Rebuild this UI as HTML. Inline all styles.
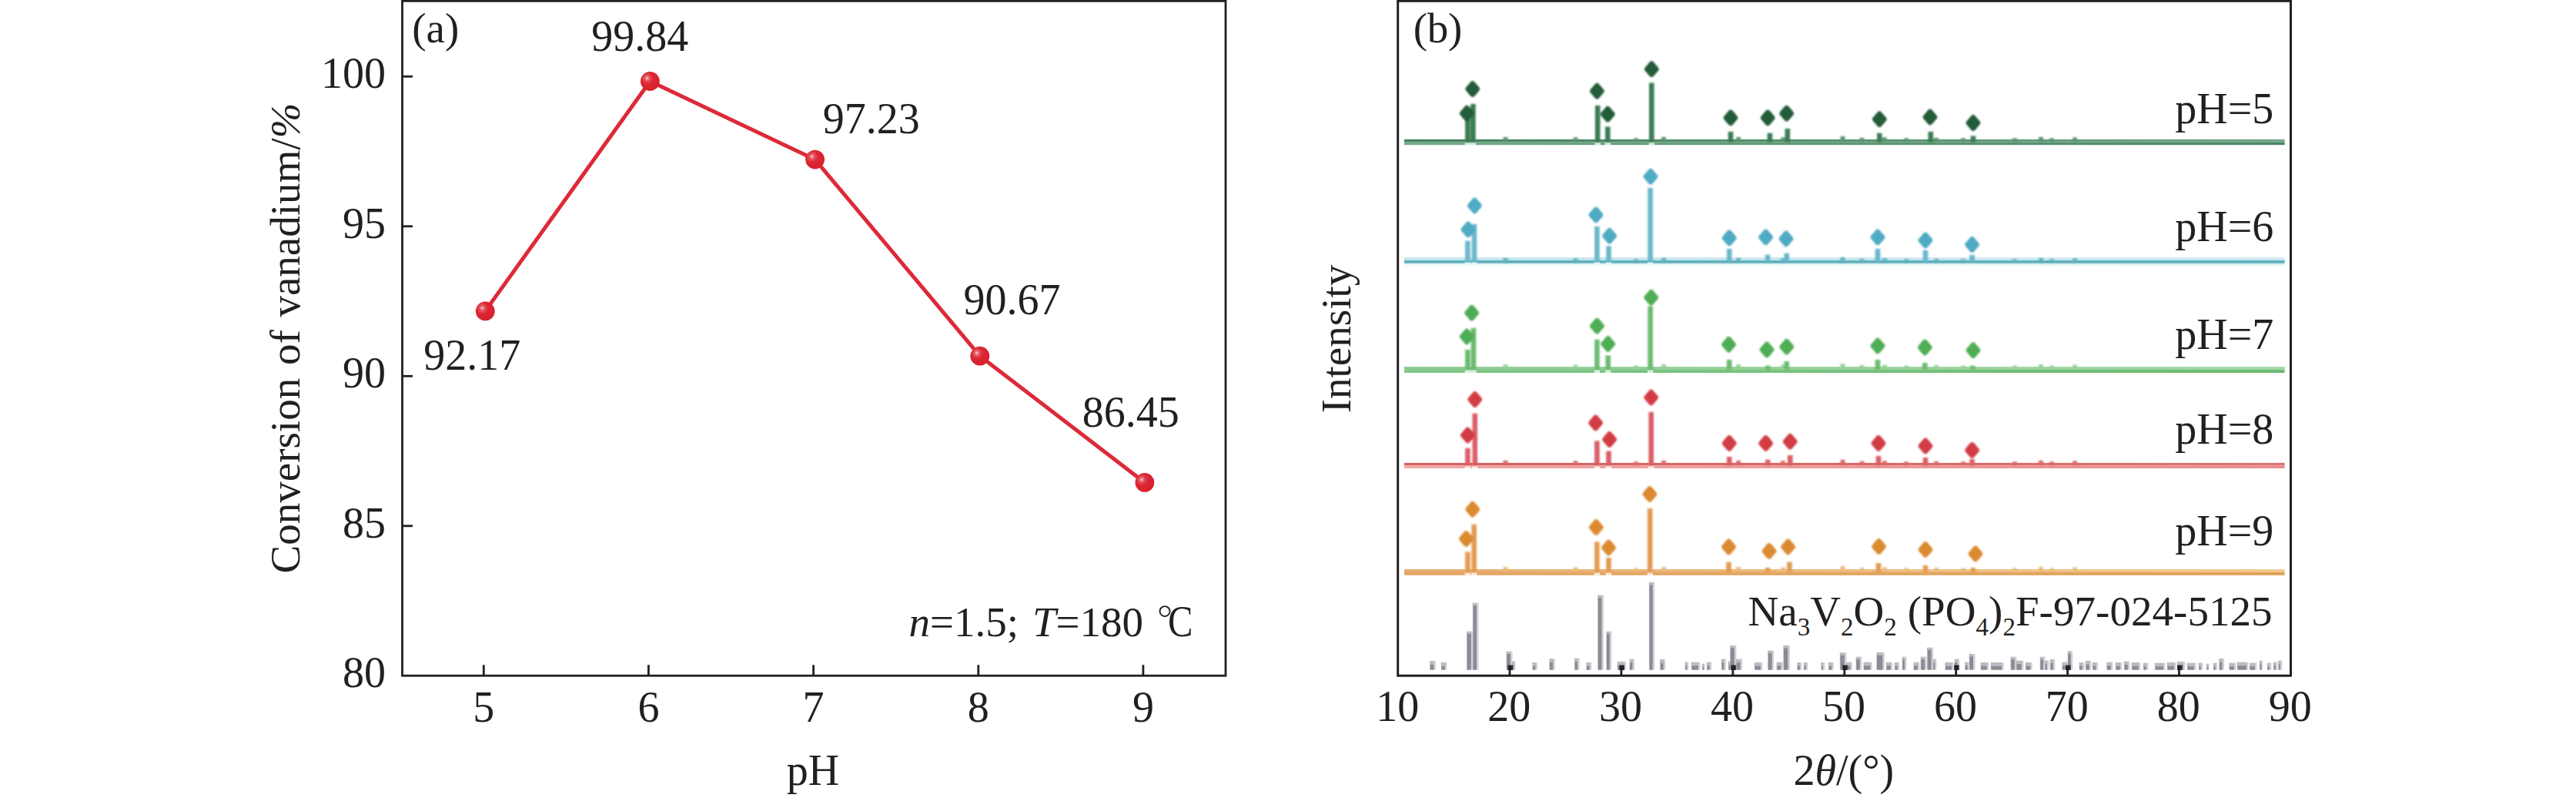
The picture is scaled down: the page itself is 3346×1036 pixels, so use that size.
<!DOCTYPE html>
<html><head><meta charset="utf-8"><title>Figure</title>
<style>
html,body{margin:0;padding:0;background:#fff;}
body{width:3346px;height:1036px;overflow:hidden;}
svg{display:block;}
text{font-family:"Liberation Serif",serif;font-size:56px;fill:#231f20;}
.i{font-style:italic;}
.sub{font-size:33px;}
.f55{font-size:55px;}
</style></head><body>
<svg width="3346" height="1036" viewBox="0 0 3346 1036">
<defs>
<filter id="soft" x="-5%" y="-5%" width="110%" height="110%"><feGaussianBlur stdDeviation="1.1"/></filter>
<filter id="soft2" x="-5%" y="-5%" width="110%" height="110%"><feGaussianBlur stdDeviation="0.7"/></filter>
<radialGradient id="ball" cx="0.36" cy="0.36" r="0.62" fx="0.34" fy="0.34">
<stop offset="0" stop-color="#f7c6cb"/><stop offset="0.22" stop-color="#e5525e"/><stop offset="0.5" stop-color="#dc2733"/><stop offset="1" stop-color="#d8202d"/>
</radialGradient>
</defs>
<rect x="0" y="0" width="3346" height="1036" fill="#ffffff"/>
<g id="panel-a">
<rect x="522.5" y="1.3" width="1069.5" height="875.9" fill="none" stroke="#231f20" stroke-width="2.8"/>
<text x="501" y="892.4" text-anchor="end">80</text>
<line x1="522.5" y1="682.8" x2="536.0" y2="682.8" stroke="#231f20" stroke-width="2.8"/>
<text x="501" y="697.9" text-anchor="end">85</text>
<line x1="522.5" y1="488.3" x2="536.0" y2="488.3" stroke="#231f20" stroke-width="2.8"/>
<text x="501" y="503.4" text-anchor="end">90</text>
<line x1="522.5" y1="293.8" x2="536.0" y2="293.8" stroke="#231f20" stroke-width="2.8"/>
<text x="501" y="308.9" text-anchor="end">95</text>
<line x1="522.5" y1="99.3" x2="536.0" y2="99.3" stroke="#231f20" stroke-width="2.8"/>
<text x="501" y="114.4" text-anchor="end">100</text>
<line x1="628.3" y1="877.2" x2="628.3" y2="863.2" stroke="#231f20" stroke-width="2.8"/>
<text x="628.3" y="937.1" text-anchor="middle">5</text>
<line x1="842.4" y1="877.2" x2="842.4" y2="863.2" stroke="#231f20" stroke-width="2.8"/>
<text x="842.4" y="937.1" text-anchor="middle">6</text>
<line x1="1056.6" y1="877.2" x2="1056.6" y2="863.2" stroke="#231f20" stroke-width="2.8"/>
<text x="1056.6" y="937.1" text-anchor="middle">7</text>
<line x1="1270.8" y1="877.2" x2="1270.8" y2="863.2" stroke="#231f20" stroke-width="2.8"/>
<text x="1270.8" y="937.1" text-anchor="middle">8</text>
<line x1="1484.9" y1="877.2" x2="1484.9" y2="863.2" stroke="#231f20" stroke-width="2.8"/>
<text x="1484.9" y="937.1" text-anchor="middle">9</text>
<text x="1056" y="1018.8" text-anchor="middle">pH</text>
<text transform="translate(389,439) rotate(-90)" text-anchor="middle" word-spacing="3" class="f55">Conversion of vanadium/<tspan class="i">%</tspan></text>
<text x="535.3" y="55" class="f55">(a)</text>
<g filter="url(#soft2)">
<polyline points="630.3,403.9 844.4,105.5 1058.6,207.1 1272.8,462.2 1486.9,626.4" fill="none" stroke="#dd2a38" stroke-width="5.0" stroke-linejoin="round" stroke-linecap="round"/>
<circle cx="630.3" cy="403.9" r="12.4" fill="url(#ball)"/>
<circle cx="844.4" cy="105.5" r="12.4" fill="url(#ball)"/>
<circle cx="1058.6" cy="207.1" r="12.4" fill="url(#ball)"/>
<circle cx="1272.8" cy="462.2" r="12.4" fill="url(#ball)"/>
<circle cx="1486.9" cy="626.4" r="12.4" fill="url(#ball)"/>
</g>
<text x="550.3" y="479.8">92.17</text>
<text x="768.3" y="65.9">99.84</text>
<text x="1068.8" y="172.7">97.23</text>
<text x="1251.5" y="407.9">90.67</text>
<text x="1405.8" y="553.6">86.45</text>
<text x="1180.5" y="826" class="f55"><tspan class="i">n</tspan>=1.5;</text>
<text x="1485" y="826" text-anchor="end" class="f55"><tspan class="i">T</tspan>=180</text>
<circle cx="1513" cy="793.6" r="6.5" fill="none" stroke="#231f20" stroke-width="1.9"/>
<text transform="translate(1517.0,826.3) scale(0.885,1.035)" class="f55">C</text>
</g>
<g id="panel-b">
<g>
<linearGradient id="g1" gradientUnits="userSpaceOnUse" x1="1824" y1="0" x2="2968" y2="0"><stop offset="0" stop-color="#43825d"/><stop offset="1" stop-color="#72a686"/></linearGradient>
<rect x="1824" y="180.9" width="1143.6" height="3.7" fill="url(#g1)"/>
<linearGradient id="g2" gradientUnits="userSpaceOnUse" x1="1824" y1="0" x2="2968" y2="0"><stop offset="0" stop-color="#73aa87"/><stop offset="1" stop-color="#4b8764"/></linearGradient>
<rect x="1824" y="184.6" width="1143.6" height="3.6" fill="url(#g2)"/>
<rect x="1902.7" y="184.9" width="7.4" height="3.8" fill="#ffffff" fill-opacity="0.75"/>
<rect x="1909.7" y="184.9" width="7.4" height="3.8" fill="#ffffff" fill-opacity="0.75"/>
<rect x="2071.5" y="184.9" width="7.4" height="3.8" fill="#ffffff" fill-opacity="0.75"/>
<rect x="2084.6" y="184.9" width="7.4" height="3.8" fill="#ffffff" fill-opacity="0.75"/>
<rect x="2141.6" y="184.9" width="7.4" height="3.8" fill="#ffffff" fill-opacity="0.75"/>
</g>
<g filter="url(#soft)">
<g fill="#5a9471">
<rect x="1952.5" y="177.9" width="6.0" height="6.0"/>
<rect x="2043.5" y="178.4" width="6.0" height="5.5"/>
<rect x="2122.0" y="179.4" width="6.0" height="4.5"/>
<rect x="2158.0" y="177.9" width="6.0" height="6.0"/>
<rect x="2255.0" y="177.9" width="6.0" height="6.0"/>
<rect x="2313.0" y="178.4" width="6.0" height="5.5"/>
<rect x="2390.5" y="176.9" width="6.0" height="7.0"/>
<rect x="2415.5" y="178.9" width="6.0" height="5.0"/>
<rect x="2445.0" y="178.4" width="6.0" height="5.5"/>
<rect x="2473.0" y="179.4" width="6.0" height="4.5"/>
<rect x="2512.0" y="178.9" width="6.0" height="5.0"/>
<rect x="2547.0" y="179.4" width="6.0" height="4.5"/>
<rect x="2614.0" y="179.4" width="6.0" height="4.5"/>
<rect x="2648.0" y="177.9" width="6.0" height="6.0"/>
<rect x="2662.0" y="179.4" width="6.0" height="4.5"/>
<rect x="2692.0" y="178.4" width="6.0" height="5.5"/>
</g>
<g fill="#3a7c53">
<rect x="1903.1" y="150.0" width="6.6" height="34.6"/>
<rect x="1910.1" y="135.0" width="6.6" height="49.6"/>
<rect x="2071.9" y="137.0" width="6.6" height="47.6"/>
<rect x="2085.0" y="164.5" width="6.6" height="20.1"/>
<rect x="2142.0" y="107.5" width="6.6" height="77.1"/>
<rect x="2244.7" y="171.0" width="6.6" height="13.6"/>
<rect x="2295.6" y="172.8" width="6.6" height="11.8"/>
<rect x="2318.5" y="167.0" width="6.6" height="17.6"/>
<rect x="2438.0" y="172.8" width="6.6" height="11.8"/>
<rect x="2504.5" y="171.0" width="6.6" height="13.6"/>
<rect x="2559.7" y="176.5" width="6.6" height="8.1"/>
</g>
<g fill="#245c38" stroke="#245c38" stroke-width="7" stroke-linejoin="round">
<path d="M1905.3 140.4L1911.1 147.2L1905.3 154.0L1899.5 147.2Z"/>
<path d="M1912.8 108.8L1918.6 115.6L1912.8 122.4L1907.0 115.6Z"/>
<path d="M2074.4 111.5L2080.2 118.3L2074.4 125.1L2068.6 118.3Z"/>
<path d="M2088.3 141.5L2094.1 148.3L2088.3 155.1L2082.5 148.3Z"/>
<path d="M2145.3 83.0L2151.1 89.8L2145.3 96.6L2139.5 89.8Z"/>
<path d="M2248.0 146.1L2253.8 152.9L2248.0 159.7L2242.2 152.9Z"/>
<path d="M2296.2 146.1L2302.0 152.9L2296.2 159.7L2290.4 152.9Z"/>
<path d="M2320.7 140.4L2326.5 147.2L2320.7 154.0L2314.9 147.2Z"/>
<path d="M2441.3 147.9L2447.1 154.7L2441.3 161.5L2435.5 154.7Z"/>
<path d="M2507.0 145.2L2512.8 152.0L2507.0 158.8L2501.2 152.0Z"/>
<path d="M2563.0 152.8L2568.8 159.6L2563.0 166.4L2557.2 159.6Z"/>
</g>
</g>
<g>
<linearGradient id="g3" gradientUnits="userSpaceOnUse" x1="1824" y1="0" x2="2968" y2="0"><stop offset="0" stop-color="#c3e6eb"/><stop offset="1" stop-color="#cdebee"/></linearGradient>
<rect x="1824" y="334.2" width="1143.6" height="3.8" fill="url(#g3)"/>
<linearGradient id="g4" gradientUnits="userSpaceOnUse" x1="1824" y1="0" x2="2968" y2="0"><stop offset="0" stop-color="#ecf7f8"/><stop offset="1" stop-color="#e1f2f3"/></linearGradient>
<rect x="1824" y="341.9" width="1143.6" height="3.1" fill="url(#g4)"/>
<linearGradient id="g5" gradientUnits="userSpaceOnUse" x1="1824" y1="0" x2="2968" y2="0"><stop offset="0" stop-color="#64b2c1"/><stop offset="1" stop-color="#64b2c1"/></linearGradient>
<rect x="1824" y="338.0" width="1143.6" height="2.0" fill="url(#g5)"/>
<linearGradient id="g6" gradientUnits="userSpaceOnUse" x1="1824" y1="0" x2="2968" y2="0"><stop offset="0" stop-color="#64b2c1"/><stop offset="1" stop-color="#64b2c1"/></linearGradient>
<rect x="1824" y="340.0" width="1143.6" height="1.9" fill="url(#g6)"/>
<rect x="1902.7" y="340.3" width="7.4" height="2.1" fill="#ffffff" fill-opacity="0.75"/>
<rect x="1911.3" y="340.3" width="7.4" height="2.1" fill="#ffffff" fill-opacity="0.75"/>
<rect x="2070.7" y="340.3" width="7.4" height="2.1" fill="#ffffff" fill-opacity="0.75"/>
<rect x="2085.8" y="340.3" width="7.4" height="2.1" fill="#ffffff" fill-opacity="0.75"/>
<rect x="2139.9" y="340.3" width="7.4" height="2.1" fill="#ffffff" fill-opacity="0.75"/>
</g>
<g filter="url(#soft)">
<g fill="#64b2c1">
<rect x="1952.5" y="335.0" width="6.0" height="6.0"/>
<rect x="2043.5" y="335.5" width="6.0" height="5.5"/>
<rect x="2122.0" y="336.5" width="6.0" height="4.5"/>
<rect x="2158.0" y="335.0" width="6.0" height="6.0"/>
<rect x="2255.0" y="335.0" width="6.0" height="6.0"/>
<rect x="2313.0" y="335.5" width="6.0" height="5.5"/>
<rect x="2390.5" y="334.0" width="6.0" height="7.0"/>
<rect x="2415.5" y="336.0" width="6.0" height="5.0"/>
<rect x="2445.0" y="335.5" width="6.0" height="5.5"/>
<rect x="2473.0" y="336.5" width="6.0" height="4.5"/>
<rect x="2512.0" y="336.0" width="6.0" height="5.0"/>
<rect x="2547.0" y="336.5" width="6.0" height="4.5"/>
<rect x="2614.0" y="336.5" width="6.0" height="4.5"/>
<rect x="2648.0" y="335.0" width="6.0" height="6.0"/>
<rect x="2662.0" y="336.5" width="6.0" height="4.5"/>
<rect x="2692.0" y="335.5" width="6.0" height="5.5"/>
</g>
<g fill="#6ab7cd">
<rect x="1903.1" y="312.6" width="6.6" height="27.4"/>
<rect x="1911.7" y="291.0" width="6.6" height="49.0"/>
<rect x="2071.1" y="294.0" width="6.6" height="46.0"/>
<rect x="2086.2" y="319.4" width="6.6" height="20.6"/>
<rect x="2140.3" y="244.0" width="6.6" height="96.0"/>
<rect x="2242.9" y="323.0" width="6.6" height="17.0"/>
<rect x="2292.7" y="330.7" width="6.6" height="9.3"/>
<rect x="2317.4" y="328.8" width="6.6" height="11.2"/>
<rect x="2435.7" y="323.0" width="6.6" height="17.0"/>
<rect x="2497.7" y="325.0" width="6.6" height="15.0"/>
<rect x="2558.3" y="331.0" width="6.6" height="9.0"/>
</g>
<g fill="#4faac3" stroke="#4faac3" stroke-width="7" stroke-linejoin="round">
<path d="M1907.0 291.2L1912.8 298.0L1907.0 304.8L1901.2 298.0Z"/>
<path d="M1915.4 260.2L1921.2 267.0L1915.4 273.8L1909.6 267.0Z"/>
<path d="M2073.0 272.2L2078.8 279.0L2073.0 285.8L2067.2 279.0Z"/>
<path d="M2090.6 299.4L2096.4 306.2L2090.6 313.0L2084.8 306.2Z"/>
<path d="M2144.0 222.4L2149.8 229.2L2144.0 236.0L2138.2 229.2Z"/>
<path d="M2246.2 302.1L2252.0 308.9L2246.2 315.7L2240.4 308.9Z"/>
<path d="M2293.6 301.2L2299.4 308.0L2293.6 314.8L2287.8 308.0Z"/>
<path d="M2320.0 303.2L2325.8 310.0L2320.0 316.8L2314.2 310.0Z"/>
<path d="M2439.0 301.2L2444.8 308.0L2439.0 314.8L2433.2 308.0Z"/>
<path d="M2501.0 305.2L2506.8 312.0L2501.0 318.8L2495.2 312.0Z"/>
<path d="M2561.6 310.7L2567.4 317.5L2561.6 324.3L2555.8 317.5Z"/>
</g>
</g>
<g>
<linearGradient id="g7" gradientUnits="userSpaceOnUse" x1="1824" y1="0" x2="2968" y2="0"><stop offset="0" stop-color="#8aca8e"/><stop offset="1" stop-color="#a0d7a5"/></linearGradient>
<rect x="1824" y="476.2" width="1143.6" height="3.9" fill="url(#g7)"/>
<linearGradient id="g8" gradientUnits="userSpaceOnUse" x1="1824" y1="0" x2="2968" y2="0"><stop offset="0" stop-color="#7dc684"/><stop offset="1" stop-color="#69b96e"/></linearGradient>
<rect x="1824" y="480.1" width="1143.6" height="3.9" fill="url(#g8)"/>
<rect x="1902.7" y="480.4" width="7.4" height="4.1" fill="#ffffff" fill-opacity="0.75"/>
<rect x="1910.3" y="480.4" width="7.4" height="4.1" fill="#ffffff" fill-opacity="0.75"/>
<rect x="2070.7" y="480.4" width="7.4" height="4.1" fill="#ffffff" fill-opacity="0.75"/>
<rect x="2085.0" y="480.4" width="7.4" height="4.1" fill="#ffffff" fill-opacity="0.75"/>
<rect x="2139.9" y="480.4" width="7.4" height="4.1" fill="#ffffff" fill-opacity="0.75"/>
</g>
<g filter="url(#soft)">
<g fill="#95d099">
<rect x="1952.5" y="473.2" width="6.0" height="6.0"/>
<rect x="2043.5" y="473.7" width="6.0" height="5.5"/>
<rect x="2122.0" y="474.7" width="6.0" height="4.5"/>
<rect x="2158.0" y="473.2" width="6.0" height="6.0"/>
<rect x="2255.0" y="473.2" width="6.0" height="6.0"/>
<rect x="2313.0" y="473.7" width="6.0" height="5.5"/>
<rect x="2390.5" y="472.2" width="6.0" height="7.0"/>
<rect x="2415.5" y="474.2" width="6.0" height="5.0"/>
<rect x="2445.0" y="473.7" width="6.0" height="5.5"/>
<rect x="2473.0" y="474.7" width="6.0" height="4.5"/>
<rect x="2512.0" y="474.2" width="6.0" height="5.0"/>
<rect x="2547.0" y="474.7" width="6.0" height="4.5"/>
<rect x="2614.0" y="474.7" width="6.0" height="4.5"/>
<rect x="2648.0" y="473.2" width="6.0" height="6.0"/>
<rect x="2662.0" y="474.7" width="6.0" height="4.5"/>
<rect x="2692.0" y="473.7" width="6.0" height="5.5"/>
</g>
<g fill="#6cbb6f">
<rect x="1903.1" y="454.0" width="6.6" height="26.1"/>
<rect x="1910.7" y="425.8" width="6.6" height="54.3"/>
<rect x="2071.1" y="440.8" width="6.6" height="39.3"/>
<rect x="2085.4" y="461.5" width="6.6" height="18.6"/>
<rect x="2140.3" y="397.6" width="6.6" height="82.5"/>
<rect x="2242.9" y="467.0" width="6.6" height="13.1"/>
<rect x="2292.9" y="474.7" width="6.6" height="5.4"/>
<rect x="2317.4" y="469.0" width="6.6" height="11.1"/>
<rect x="2435.7" y="467.0" width="6.6" height="13.1"/>
<rect x="2497.0" y="471.0" width="6.6" height="9.1"/>
<rect x="2559.0" y="474.7" width="6.6" height="5.4"/>
</g>
<g fill="#4fae54" stroke="#4fae54" stroke-width="7" stroke-linejoin="round">
<path d="M1905.3 430.2L1911.1 437.0L1905.3 443.8L1899.5 437.0Z"/>
<path d="M1911.7 399.4L1917.5 406.2L1911.7 413.0L1905.9 406.2Z"/>
<path d="M2074.4 416.4L2080.2 423.2L2074.4 430.0L2068.6 423.2Z"/>
<path d="M2088.7 439.7L2094.5 446.5L2088.7 453.3L2082.9 446.5Z"/>
<path d="M2144.7 379.5L2150.5 386.3L2144.7 393.1L2138.9 386.3Z"/>
<path d="M2245.5 440.4L2251.3 447.2L2245.5 454.0L2239.7 447.2Z"/>
<path d="M2295.0 447.2L2300.8 454.0L2295.0 460.8L2289.2 454.0Z"/>
<path d="M2320.7 443.4L2326.5 450.2L2320.7 457.0L2314.9 450.2Z"/>
<path d="M2439.0 442.2L2444.8 449.0L2439.0 455.8L2433.2 449.0Z"/>
<path d="M2500.3 444.2L2506.1 451.0L2500.3 457.8L2494.5 451.0Z"/>
<path d="M2563.0 447.9L2568.8 454.7L2563.0 461.5L2557.2 454.7Z"/>
</g>
</g>
<g>
<linearGradient id="g9" gradientUnits="userSpaceOnUse" x1="1824" y1="0" x2="2968" y2="0"><stop offset="0" stop-color="#d75f5f"/><stop offset="1" stop-color="#dc7373"/></linearGradient>
<rect x="1824" y="600.9" width="1143.6" height="3.5" fill="url(#g9)"/>
<linearGradient id="g10" gradientUnits="userSpaceOnUse" x1="1824" y1="0" x2="2968" y2="0"><stop offset="0" stop-color="#f0a5a5"/><stop offset="1" stop-color="#e68c8c"/></linearGradient>
<rect x="1824" y="604.4" width="1143.6" height="3.6" fill="url(#g10)"/>
<rect x="1902.7" y="604.7" width="7.4" height="3.8" fill="#ffffff" fill-opacity="0.75"/>
<rect x="1912.1" y="604.7" width="7.4" height="3.8" fill="#ffffff" fill-opacity="0.75"/>
<rect x="2070.7" y="604.7" width="7.4" height="3.8" fill="#ffffff" fill-opacity="0.75"/>
<rect x="2085.8" y="604.7" width="7.4" height="3.8" fill="#ffffff" fill-opacity="0.75"/>
<rect x="2141.0" y="604.7" width="7.4" height="3.8" fill="#ffffff" fill-opacity="0.75"/>
</g>
<g filter="url(#soft)">
<g fill="#d96969">
<rect x="1952.5" y="597.9" width="6.0" height="6.0"/>
<rect x="2043.5" y="598.4" width="6.0" height="5.5"/>
<rect x="2122.0" y="599.4" width="6.0" height="4.5"/>
<rect x="2158.0" y="597.9" width="6.0" height="6.0"/>
<rect x="2255.0" y="597.9" width="6.0" height="6.0"/>
<rect x="2313.0" y="598.4" width="6.0" height="5.5"/>
<rect x="2390.5" y="596.9" width="6.0" height="7.0"/>
<rect x="2415.5" y="598.9" width="6.0" height="5.0"/>
<rect x="2445.0" y="598.4" width="6.0" height="5.5"/>
<rect x="2473.0" y="599.4" width="6.0" height="4.5"/>
<rect x="2512.0" y="598.9" width="6.0" height="5.0"/>
<rect x="2547.0" y="599.4" width="6.0" height="4.5"/>
<rect x="2614.0" y="599.4" width="6.0" height="4.5"/>
<rect x="2648.0" y="597.9" width="6.0" height="6.0"/>
<rect x="2662.0" y="599.4" width="6.0" height="4.5"/>
<rect x="2692.0" y="598.4" width="6.0" height="5.5"/>
</g>
<g fill="#da5f66">
<rect x="1903.1" y="581.8" width="6.6" height="22.6"/>
<rect x="1912.5" y="536.7" width="6.6" height="67.7"/>
<rect x="2071.1" y="572.4" width="6.6" height="32.0"/>
<rect x="2086.2" y="585.6" width="6.6" height="18.8"/>
<rect x="2141.4" y="534.8" width="6.6" height="69.6"/>
<rect x="2242.9" y="593.0" width="6.6" height="11.4"/>
<rect x="2292.9" y="596.8" width="6.6" height="7.6"/>
<rect x="2321.9" y="591.0" width="6.6" height="13.4"/>
<rect x="2436.7" y="592.0" width="6.6" height="12.4"/>
<rect x="2497.7" y="594.0" width="6.6" height="10.4"/>
<rect x="2558.3" y="596.0" width="6.6" height="8.4"/>
</g>
<g fill="#d23c44" stroke="#d23c44" stroke-width="7" stroke-linejoin="round">
<path d="M1906.4 558.2L1912.2 565.0L1906.4 571.8L1900.6 565.0Z"/>
<path d="M1915.8 511.8L1921.6 518.6L1915.8 525.4L1910.0 518.6Z"/>
<path d="M2072.6 542.2L2078.4 549.0L2072.6 555.8L2066.8 549.0Z"/>
<path d="M2090.6 563.7L2096.4 570.5L2090.6 577.3L2084.8 570.5Z"/>
<path d="M2144.7 509.2L2150.5 516.0L2144.7 522.8L2138.9 516.0Z"/>
<path d="M2246.2 568.6L2252.0 575.4L2246.2 582.2L2240.4 575.4Z"/>
<path d="M2293.6 568.6L2299.4 575.4L2293.6 582.2L2287.8 575.4Z"/>
<path d="M2325.2 566.4L2331.0 573.2L2325.2 580.0L2319.4 573.2Z"/>
<path d="M2440.0 568.6L2445.8 575.4L2440.0 582.2L2434.2 575.4Z"/>
<path d="M2501.0 572.2L2506.8 579.0L2501.0 585.8L2495.2 579.0Z"/>
<path d="M2561.6 577.6L2567.4 584.4L2561.6 591.2L2555.8 584.4Z"/>
</g>
</g>
<g>
<linearGradient id="g11" gradientUnits="userSpaceOnUse" x1="1824" y1="0" x2="2968" y2="0"><stop offset="0" stop-color="#e5ac6c"/><stop offset="1" stop-color="#f0c891"/></linearGradient>
<rect x="1824" y="739.1" width="1143.6" height="3.9" fill="url(#g11)"/>
<linearGradient id="g12" gradientUnits="userSpaceOnUse" x1="1824" y1="0" x2="2968" y2="0"><stop offset="0" stop-color="#e4a864"/><stop offset="1" stop-color="#e1a055"/></linearGradient>
<rect x="1824" y="743.0" width="1143.6" height="3.8" fill="url(#g12)"/>
<rect x="1902.7" y="743.3" width="7.4" height="4.0" fill="#ffffff" fill-opacity="0.75"/>
<rect x="1911.0" y="743.3" width="7.4" height="4.0" fill="#ffffff" fill-opacity="0.75"/>
<rect x="2070.7" y="743.3" width="7.4" height="4.0" fill="#ffffff" fill-opacity="0.75"/>
<rect x="2085.8" y="743.3" width="7.4" height="4.0" fill="#ffffff" fill-opacity="0.75"/>
<rect x="2139.5" y="743.3" width="7.4" height="4.0" fill="#ffffff" fill-opacity="0.75"/>
</g>
<g filter="url(#soft)">
<g fill="#eaba7e">
<rect x="1952.5" y="736.1" width="6.0" height="6.0"/>
<rect x="2043.5" y="736.6" width="6.0" height="5.5"/>
<rect x="2122.0" y="737.6" width="6.0" height="4.5"/>
<rect x="2158.0" y="736.1" width="6.0" height="6.0"/>
<rect x="2255.0" y="736.1" width="6.0" height="6.0"/>
<rect x="2313.0" y="736.6" width="6.0" height="5.5"/>
<rect x="2390.5" y="735.1" width="6.0" height="7.0"/>
<rect x="2415.5" y="737.1" width="6.0" height="5.0"/>
<rect x="2445.0" y="736.6" width="6.0" height="5.5"/>
<rect x="2473.0" y="737.6" width="6.0" height="4.5"/>
<rect x="2512.0" y="737.1" width="6.0" height="5.0"/>
<rect x="2547.0" y="737.6" width="6.0" height="4.5"/>
<rect x="2614.0" y="737.6" width="6.0" height="4.5"/>
<rect x="2648.0" y="736.1" width="6.0" height="6.0"/>
<rect x="2662.0" y="737.6" width="6.0" height="4.5"/>
<rect x="2692.0" y="736.6" width="6.0" height="5.5"/>
</g>
<g fill="#e39b52">
<rect x="1903.1" y="716.5" width="6.6" height="26.5"/>
<rect x="1911.4" y="680.8" width="6.6" height="62.2"/>
<rect x="2071.1" y="703.4" width="6.6" height="39.6"/>
<rect x="2086.2" y="724.0" width="6.6" height="19.0"/>
<rect x="2139.9" y="660.0" width="6.6" height="83.0"/>
<rect x="2242.2" y="729.7" width="6.6" height="13.3"/>
<rect x="2292.7" y="737.0" width="6.6" height="6.0"/>
<rect x="2321.1" y="729.7" width="6.6" height="13.3"/>
<rect x="2436.7" y="731.0" width="6.6" height="12.0"/>
<rect x="2497.7" y="734.0" width="6.6" height="9.0"/>
<rect x="2559.7" y="737.0" width="6.6" height="6.0"/>
</g>
<g fill="#dc8a30" stroke="#dc8a30" stroke-width="7" stroke-linejoin="round">
<path d="M1904.5 692.8L1910.3 699.6L1904.5 706.4L1898.7 699.6Z"/>
<path d="M1912.8 654.5L1918.6 661.3L1912.8 668.1L1907.0 661.3Z"/>
<path d="M2073.3 677.8L2079.1 684.6L2073.3 691.4L2067.5 684.6Z"/>
<path d="M2089.5 704.2L2095.3 711.0L2089.5 717.8L2083.7 711.0Z"/>
<path d="M2142.9 634.6L2148.7 641.4L2142.9 648.2L2137.1 641.4Z"/>
<path d="M2245.5 703.2L2251.3 710.0L2245.5 716.8L2239.7 710.0Z"/>
<path d="M2298.0 708.6L2303.8 715.4L2298.0 722.2L2292.2 715.4Z"/>
<path d="M2322.6 703.2L2328.4 710.0L2322.6 716.8L2316.8 710.0Z"/>
<path d="M2440.5 702.7L2446.3 709.5L2440.5 716.3L2434.7 709.5Z"/>
<path d="M2501.0 706.7L2506.8 713.5L2501.0 720.3L2495.2 713.5Z"/>
<path d="M2566.0 712.2L2571.8 719.0L2566.0 725.8L2560.2 719.0Z"/>
</g>
</g>
<g filter="url(#soft2)">
<g fill="#cfd0d5">
<rect x="1857.0" y="858.1" width="7.8" height="11.5"/>
<rect x="1871.7" y="860.0" width="7.6" height="9.6"/>
<rect x="1904.9" y="819.5" width="8.4" height="50.1"/>
<rect x="1912.7" y="782.5" width="7.8" height="87.1"/>
<rect x="1956.4" y="845.5" width="8.1" height="24.1"/>
<rect x="1963.9" y="858.5" width="4.4" height="11.1"/>
<rect x="1990.2" y="860.0" width="6.7" height="9.6"/>
<rect x="2012.2" y="855.1" width="7.5" height="14.5"/>
<rect x="2044.9" y="854.5" width="6.7" height="15.1"/>
<rect x="2060.2" y="860.0" width="7.1" height="9.6"/>
<rect x="2075.1" y="772.5" width="7.8" height="97.1"/>
<rect x="2086.2" y="819.5" width="7.1" height="50.1"/>
<rect x="2100.6" y="859.0" width="11.5" height="10.6"/>
<rect x="2116.3" y="855.5" width="6.7" height="14.1"/>
<rect x="2141.8" y="755.9" width="7.3" height="113.7"/>
<rect x="2156.0" y="856.0" width="7.1" height="13.6"/>
<rect x="2188.5" y="859.5" width="4.8" height="10.1"/>
<rect x="2196.7" y="859.5" width="11.6" height="10.1"/>
<rect x="2210.7" y="861.5" width="3.6" height="8.1"/>
<rect x="2216.7" y="859.5" width="6.4" height="10.1"/>
<rect x="2235.7" y="855.5" width="6.1" height="14.1"/>
<rect x="2247.0" y="838.0" width="8.3" height="31.6"/>
<rect x="2254.7" y="855.5" width="8.4" height="14.1"/>
<rect x="2244.7" y="858.5" width="2.9" height="11.1"/>
<rect x="2278.7" y="860.0" width="10.6" height="9.6"/>
<rect x="2296.0" y="844.5" width="8.1" height="25.1"/>
<rect x="2307.5" y="859.5" width="8.3" height="10.1"/>
<rect x="2316.2" y="838.0" width="8.6" height="31.6"/>
<rect x="2334.1" y="860.0" width="6.2" height="9.6"/>
<rect x="2342.7" y="860.0" width="5.6" height="9.6"/>
<rect x="2365.2" y="860.0" width="5.1" height="9.6"/>
<rect x="2374.7" y="860.0" width="7.1" height="9.6"/>
<rect x="2389.7" y="847.3" width="8.6" height="22.3"/>
<rect x="2397.7" y="859.5" width="8.1" height="10.1"/>
<rect x="2410.5" y="852.5" width="7.8" height="17.1"/>
<rect x="2420.3" y="859.5" width="11.5" height="10.1"/>
<rect x="2437.2" y="847.1" width="10.6" height="22.5"/>
<rect x="2449.7" y="859.5" width="8.6" height="10.1"/>
<rect x="2460.7" y="860.0" width="6.6" height="9.6"/>
<rect x="2470.5" y="852.5" width="6.0" height="17.1"/>
<rect x="2485.3" y="859.5" width="8.0" height="10.1"/>
<rect x="2494.5" y="852.5" width="8.0" height="17.1"/>
<rect x="2503.0" y="840.5" width="8.1" height="29.1"/>
<rect x="2510.5" y="855.5" width="4.8" height="14.1"/>
<rect x="2526.2" y="860.0" width="11.4" height="9.6"/>
<rect x="2538.3" y="855.5" width="6.8" height="14.1"/>
<rect x="2552.1" y="859.5" width="6.1" height="10.1"/>
<rect x="2557.6" y="848.9" width="7.9" height="20.7"/>
<rect x="2572.5" y="860.0" width="10.8" height="9.6"/>
<rect x="2585.7" y="860.0" width="16.9" height="9.6"/>
<rect x="2611.4" y="852.5" width="7.9" height="17.1"/>
<rect x="2618.7" y="857.5" width="9.6" height="12.1"/>
<rect x="2630.7" y="860.0" width="9.0" height="9.6"/>
<rect x="2649.6" y="852.5" width="6.9" height="17.1"/>
<rect x="2655.9" y="857.5" width="5.4" height="12.1"/>
<rect x="2662.7" y="856.0" width="6.6" height="13.6"/>
<rect x="2678.2" y="859.5" width="7.9" height="10.1"/>
<rect x="2685.5" y="845.3" width="6.8" height="24.3"/>
<rect x="2700.5" y="860.0" width="6.8" height="9.6"/>
<rect x="2708.7" y="858.0" width="7.6" height="11.6"/>
<rect x="2717.7" y="860.0" width="7.3" height="9.6"/>
<rect x="2736.2" y="859.5" width="8.1" height="10.1"/>
<rect x="2747.7" y="860.0" width="8.6" height="9.6"/>
<rect x="2758.7" y="858.5" width="7.6" height="11.1"/>
<rect x="2768.7" y="860.0" width="11.6" height="9.6"/>
<rect x="2783.7" y="860.5" width="6.6" height="9.1"/>
<rect x="2798.7" y="860.5" width="13.6" height="9.1"/>
<rect x="2814.7" y="860.0" width="11.6" height="9.6"/>
<rect x="2827.7" y="859.0" width="10.6" height="10.6"/>
<rect x="2840.7" y="860.5" width="11.6" height="9.1"/>
<rect x="2855.7" y="860.5" width="5.6" height="9.1"/>
<rect x="2865.7" y="861.5" width="3.6" height="8.1"/>
<rect x="2874.7" y="860.5" width="5.6" height="9.1"/>
<rect x="2882.2" y="855.0" width="6.7" height="14.6"/>
<rect x="2895.2" y="860.5" width="9.1" height="9.1"/>
<rect x="2905.7" y="859.5" width="14.6" height="10.1"/>
<rect x="2921.7" y="860.5" width="9.6" height="9.1"/>
<rect x="2934.7" y="857.5" width="4.1" height="12.1"/>
<rect x="2944.7" y="860.5" width="5.6" height="9.1"/>
<rect x="2952.7" y="859.5" width="5.6" height="10.1"/>
<rect x="2959.2" y="857.5" width="5.1" height="12.1"/>
</g>
<g fill="#8a8c95">
<rect x="1857.7" y="858.6" width="4.6" height="11.0"/>
<rect x="1872.4" y="860.5" width="4.4" height="9.1"/>
<rect x="1905.6" y="820.0" width="5.2" height="49.6"/>
<rect x="1913.4" y="783.0" width="4.6" height="86.6"/>
<rect x="1957.1" y="846.0" width="4.9" height="23.6"/>
<rect x="1964.6" y="859.0" width="2.0" height="10.6"/>
<rect x="1990.9" y="860.5" width="3.5" height="9.1"/>
<rect x="2012.9" y="855.6" width="4.3" height="14.0"/>
<rect x="2045.6" y="855.0" width="3.5" height="14.6"/>
<rect x="2060.9" y="860.5" width="3.9" height="9.1"/>
<rect x="2075.8" y="773.0" width="4.6" height="96.6"/>
<rect x="2086.9" y="820.0" width="3.9" height="49.6"/>
<rect x="2101.3" y="859.5" width="8.3" height="10.1"/>
<rect x="2117.0" y="856.0" width="3.5" height="13.6"/>
<rect x="2142.5" y="756.4" width="4.1" height="113.2"/>
<rect x="2156.7" y="856.5" width="3.9" height="13.1"/>
<rect x="2189.2" y="860.0" width="2.0" height="9.6"/>
<rect x="2197.4" y="860.0" width="8.4" height="9.6"/>
<rect x="2211.4" y="862.0" width="2.0" height="7.6"/>
<rect x="2217.4" y="860.0" width="3.2" height="9.6"/>
<rect x="2236.4" y="856.0" width="2.9" height="13.6"/>
<rect x="2247.7" y="838.5" width="5.1" height="31.1"/>
<rect x="2255.4" y="856.0" width="5.2" height="13.6"/>
<rect x="2245.4" y="859.0" width="2.0" height="10.6"/>
<rect x="2279.4" y="860.5" width="7.4" height="9.1"/>
<rect x="2296.7" y="845.0" width="4.9" height="24.6"/>
<rect x="2308.2" y="860.0" width="5.1" height="9.6"/>
<rect x="2316.9" y="838.5" width="5.4" height="31.1"/>
<rect x="2334.8" y="860.5" width="3.0" height="9.1"/>
<rect x="2343.4" y="860.5" width="2.4" height="9.1"/>
<rect x="2365.9" y="860.5" width="2.0" height="9.1"/>
<rect x="2375.4" y="860.5" width="3.9" height="9.1"/>
<rect x="2390.4" y="847.8" width="5.4" height="21.8"/>
<rect x="2398.4" y="860.0" width="4.9" height="9.6"/>
<rect x="2411.2" y="853.0" width="4.6" height="16.6"/>
<rect x="2421.0" y="860.0" width="8.3" height="9.6"/>
<rect x="2437.9" y="847.6" width="7.4" height="22.0"/>
<rect x="2450.4" y="860.0" width="5.4" height="9.6"/>
<rect x="2461.4" y="860.5" width="3.4" height="9.1"/>
<rect x="2471.2" y="853.0" width="2.8" height="16.6"/>
<rect x="2486.0" y="860.0" width="4.8" height="9.6"/>
<rect x="2495.2" y="853.0" width="4.8" height="16.6"/>
<rect x="2503.7" y="841.0" width="4.9" height="28.6"/>
<rect x="2511.2" y="856.0" width="2.0" height="13.6"/>
<rect x="2526.9" y="860.5" width="8.2" height="9.1"/>
<rect x="2539.0" y="856.0" width="3.6" height="13.6"/>
<rect x="2552.8" y="860.0" width="2.9" height="9.6"/>
<rect x="2558.3" y="849.4" width="4.7" height="20.2"/>
<rect x="2573.2" y="860.5" width="7.6" height="9.1"/>
<rect x="2586.4" y="860.5" width="13.7" height="9.1"/>
<rect x="2612.1" y="853.0" width="4.7" height="16.6"/>
<rect x="2619.4" y="858.0" width="6.4" height="11.6"/>
<rect x="2631.4" y="860.5" width="5.8" height="9.1"/>
<rect x="2650.3" y="853.0" width="3.7" height="16.6"/>
<rect x="2656.6" y="858.0" width="2.2" height="11.6"/>
<rect x="2663.4" y="856.5" width="3.4" height="13.1"/>
<rect x="2678.9" y="860.0" width="4.7" height="9.6"/>
<rect x="2686.2" y="845.8" width="3.6" height="23.8"/>
<rect x="2701.2" y="860.5" width="3.6" height="9.1"/>
<rect x="2709.4" y="858.5" width="4.4" height="11.1"/>
<rect x="2718.4" y="860.5" width="4.1" height="9.1"/>
<rect x="2736.9" y="860.0" width="4.9" height="9.6"/>
<rect x="2748.4" y="860.5" width="5.4" height="9.1"/>
<rect x="2759.4" y="859.0" width="4.4" height="10.6"/>
<rect x="2769.4" y="860.5" width="8.4" height="9.1"/>
<rect x="2784.4" y="861.0" width="3.4" height="8.6"/>
<rect x="2799.4" y="861.0" width="10.4" height="8.6"/>
<rect x="2815.4" y="860.5" width="8.4" height="9.1"/>
<rect x="2828.4" y="859.5" width="7.4" height="10.1"/>
<rect x="2841.4" y="861.0" width="8.4" height="8.6"/>
<rect x="2856.4" y="861.0" width="2.4" height="8.6"/>
<rect x="2866.4" y="862.0" width="2.0" height="7.6"/>
<rect x="2875.4" y="861.0" width="2.4" height="8.6"/>
<rect x="2882.9" y="855.5" width="3.5" height="14.1"/>
<rect x="2895.9" y="861.0" width="5.9" height="8.6"/>
<rect x="2906.4" y="860.0" width="11.4" height="9.6"/>
<rect x="2922.4" y="861.0" width="6.4" height="8.6"/>
<rect x="2935.4" y="858.0" width="2.0" height="11.6"/>
<rect x="2945.4" y="861.0" width="2.4" height="8.6"/>
<rect x="2953.4" y="860.0" width="2.4" height="9.6"/>
<rect x="2959.9" y="858.0" width="2.0" height="11.6"/>
</g>
<g fill="#bcbdc4">
<rect x="1857.7" y="858.6" width="4.6" height="4.2"/>
<rect x="1872.4" y="860.5" width="4.4" height="4.2"/>
<rect x="1905.6" y="820.0" width="5.2" height="3.0"/>
<rect x="1913.4" y="783.0" width="4.6" height="3.0"/>
<rect x="1957.1" y="846.0" width="4.9" height="3.0"/>
<rect x="1964.6" y="859.0" width="2.0" height="4.2"/>
<rect x="1990.9" y="860.5" width="3.5" height="4.2"/>
<rect x="2012.9" y="855.6" width="4.3" height="4.2"/>
<rect x="2045.6" y="855.0" width="3.5" height="4.2"/>
<rect x="2060.9" y="860.5" width="3.9" height="4.2"/>
<rect x="2075.8" y="773.0" width="4.6" height="3.0"/>
<rect x="2086.9" y="820.0" width="3.9" height="3.0"/>
<rect x="2101.3" y="859.5" width="8.3" height="4.2"/>
<rect x="2117.0" y="856.0" width="3.5" height="4.2"/>
<rect x="2142.5" y="756.4" width="4.1" height="3.0"/>
<rect x="2156.7" y="856.5" width="3.9" height="4.2"/>
<rect x="2189.2" y="860.0" width="2.0" height="4.2"/>
<rect x="2197.4" y="860.0" width="8.4" height="4.2"/>
<rect x="2211.4" y="862.0" width="2.0" height="4.2"/>
<rect x="2217.4" y="860.0" width="3.2" height="4.2"/>
<rect x="2236.4" y="856.0" width="2.9" height="4.2"/>
<rect x="2247.7" y="838.5" width="5.1" height="3.0"/>
<rect x="2255.4" y="856.0" width="5.2" height="4.2"/>
<rect x="2245.4" y="859.0" width="2.0" height="4.2"/>
<rect x="2279.4" y="860.5" width="7.4" height="4.2"/>
<rect x="2296.7" y="845.0" width="4.9" height="3.0"/>
<rect x="2308.2" y="860.0" width="5.1" height="4.2"/>
<rect x="2316.9" y="838.5" width="5.4" height="3.0"/>
<rect x="2334.8" y="860.5" width="3.0" height="4.2"/>
<rect x="2343.4" y="860.5" width="2.4" height="4.2"/>
<rect x="2365.9" y="860.5" width="2.0" height="4.2"/>
<rect x="2375.4" y="860.5" width="3.9" height="4.2"/>
<rect x="2390.4" y="847.8" width="5.4" height="3.0"/>
<rect x="2398.4" y="860.0" width="4.9" height="4.2"/>
<rect x="2411.2" y="853.0" width="4.6" height="3.0"/>
<rect x="2421.0" y="860.0" width="8.3" height="4.2"/>
<rect x="2437.9" y="847.6" width="7.4" height="3.0"/>
<rect x="2450.4" y="860.0" width="5.4" height="4.2"/>
<rect x="2461.4" y="860.5" width="3.4" height="4.2"/>
<rect x="2471.2" y="853.0" width="2.8" height="3.0"/>
<rect x="2486.0" y="860.0" width="4.8" height="4.2"/>
<rect x="2495.2" y="853.0" width="4.8" height="3.0"/>
<rect x="2503.7" y="841.0" width="4.9" height="3.0"/>
<rect x="2511.2" y="856.0" width="2.0" height="4.2"/>
<rect x="2526.9" y="860.5" width="8.2" height="4.2"/>
<rect x="2539.0" y="856.0" width="3.6" height="4.2"/>
<rect x="2552.8" y="860.0" width="2.9" height="4.2"/>
<rect x="2558.3" y="849.4" width="4.7" height="3.0"/>
<rect x="2573.2" y="860.5" width="7.6" height="4.2"/>
<rect x="2586.4" y="860.5" width="13.7" height="4.2"/>
<rect x="2612.1" y="853.0" width="4.7" height="3.0"/>
<rect x="2619.4" y="858.0" width="6.4" height="4.2"/>
<rect x="2631.4" y="860.5" width="5.8" height="4.2"/>
<rect x="2650.3" y="853.0" width="3.7" height="3.0"/>
<rect x="2656.6" y="858.0" width="2.2" height="4.2"/>
<rect x="2663.4" y="856.5" width="3.4" height="4.2"/>
<rect x="2678.9" y="860.0" width="4.7" height="4.2"/>
<rect x="2686.2" y="845.8" width="3.6" height="3.0"/>
<rect x="2701.2" y="860.5" width="3.6" height="4.2"/>
<rect x="2709.4" y="858.5" width="4.4" height="4.2"/>
<rect x="2718.4" y="860.5" width="4.1" height="4.2"/>
<rect x="2736.9" y="860.0" width="4.9" height="4.2"/>
<rect x="2748.4" y="860.5" width="5.4" height="4.2"/>
<rect x="2759.4" y="859.0" width="4.4" height="4.2"/>
<rect x="2769.4" y="860.5" width="8.4" height="4.2"/>
<rect x="2784.4" y="861.0" width="3.4" height="4.2"/>
<rect x="2799.4" y="861.0" width="10.4" height="4.2"/>
<rect x="2815.4" y="860.5" width="8.4" height="4.2"/>
<rect x="2828.4" y="859.5" width="7.4" height="4.2"/>
<rect x="2841.4" y="861.0" width="8.4" height="4.2"/>
<rect x="2856.4" y="861.0" width="2.4" height="4.2"/>
<rect x="2866.4" y="862.0" width="2.0" height="4.2"/>
<rect x="2875.4" y="861.0" width="2.4" height="4.2"/>
<rect x="2882.9" y="855.5" width="3.5" height="4.2"/>
<rect x="2895.9" y="861.0" width="5.9" height="4.2"/>
<rect x="2906.4" y="860.0" width="11.4" height="4.2"/>
<rect x="2922.4" y="861.0" width="6.4" height="4.2"/>
<rect x="2935.4" y="858.0" width="2.0" height="4.2"/>
<rect x="2945.4" y="861.0" width="2.4" height="4.2"/>
<rect x="2953.4" y="860.0" width="2.4" height="4.2"/>
<rect x="2959.9" y="858.0" width="2.0" height="4.2"/>
</g>
</g>
<rect x="1958.5" y="863.5" width="6.5" height="6.5" fill="#2b2a30"/>
<rect x="2103.4" y="863.5" width="6.5" height="6.5" fill="#2b2a30"/>
<rect x="2248.4" y="863.5" width="6.5" height="6.5" fill="#2b2a30"/>
<rect x="2393.3" y="863.5" width="6.5" height="6.5" fill="#2b2a30"/>
<rect x="2538.2" y="863.5" width="6.5" height="6.5" fill="#2b2a30"/>
<rect x="2683.1" y="863.5" width="6.5" height="6.5" fill="#2b2a30"/>
<rect x="2828.0" y="863.5" width="6.5" height="6.5" fill="#2b2a30"/>
<rect x="1815.7" y="1.3" width="1159.8" height="875.9" fill="none" stroke="#231f20" stroke-width="3.0"/>
<line x1="1961.0" y1="877.2" x2="1961.0" y2="864.2" stroke="#231f20" stroke-width="2.8"/>
<line x1="2105.9" y1="877.2" x2="2105.9" y2="864.2" stroke="#231f20" stroke-width="2.8"/>
<line x1="2250.9" y1="877.2" x2="2250.9" y2="864.2" stroke="#231f20" stroke-width="2.8"/>
<line x1="2395.8" y1="877.2" x2="2395.8" y2="864.2" stroke="#231f20" stroke-width="2.8"/>
<line x1="2540.7" y1="877.2" x2="2540.7" y2="864.2" stroke="#231f20" stroke-width="2.8"/>
<line x1="2685.6" y1="877.2" x2="2685.6" y2="864.2" stroke="#231f20" stroke-width="2.8"/>
<line x1="2830.5" y1="877.2" x2="2830.5" y2="864.2" stroke="#231f20" stroke-width="2.8"/>
<text x="1815.3" y="935.6" text-anchor="middle">10</text>
<text x="1960.2" y="935.6" text-anchor="middle">20</text>
<text x="2105.1" y="935.6" text-anchor="middle">30</text>
<text x="2250.1" y="935.6" text-anchor="middle">40</text>
<text x="2395.0" y="935.6" text-anchor="middle">50</text>
<text x="2539.9" y="935.6" text-anchor="middle">60</text>
<text x="2684.8" y="935.6" text-anchor="middle">70</text>
<text x="2829.7" y="935.6" text-anchor="middle">80</text>
<text x="2974.7" y="935.6" text-anchor="middle">90</text>
<text x="2953.3" y="160.2" text-anchor="end">pH=5</text>
<text x="2953.3" y="313.2" text-anchor="end">pH=6</text>
<text x="2953.3" y="452.6" text-anchor="end">pH=7</text>
<text x="2953.3" y="575.6" text-anchor="end">pH=8</text>
<text x="2953.3" y="708.4" text-anchor="end">pH=9</text>
<text x="1835.8" y="55.3" class="f55" textLength="63.5" lengthAdjust="spacing">(b)</text>
<text transform="translate(1754.4,440) rotate(-90)" text-anchor="middle" class="f55">Intensity</text>
<text x="2329.5" y="1018.8">2<tspan class="i">θ</tspan>/(°)</text>
<text x="2270.5" y="812.2" class="f55" textLength="681" lengthAdjust="spacing">Na<tspan class="sub" dy="12.4">3</tspan><tspan dy="-12.4">V</tspan><tspan class="sub" dy="12.4">2</tspan><tspan dy="-12.4">O</tspan><tspan class="sub" dy="12.4">2</tspan><tspan dy="-12.4"> (PO</tspan><tspan class="sub" dy="12.4">4</tspan><tspan dy="-12.4">)</tspan><tspan class="sub" dy="12.4">2</tspan><tspan dy="-12.4">F-97-024-5125</tspan></text>
</g>
</svg></body></html>
